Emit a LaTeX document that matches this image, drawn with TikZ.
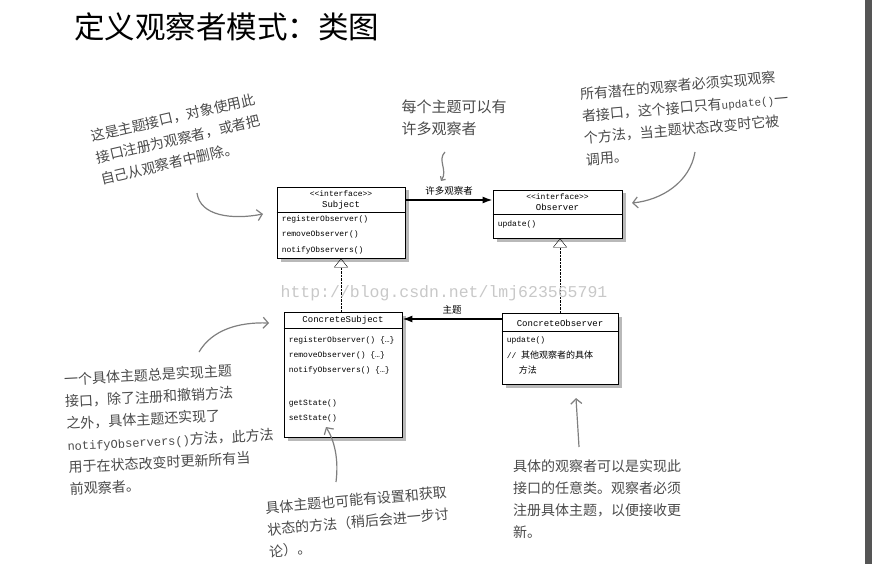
\documentclass[tikz,border=0pt]{standalone}
\usepackage{fontspec}
\setmainfont{Noto Sans CJK SC}
\setmonofont{Liberation Mono}
\newfontfamily\cjk{Noto Sans CJK SC}
\usetikzlibrary{arrows.meta,shadows}
\definecolor{notegray}{HTML}{4A4A4A}
\definecolor{handgray}{HTML}{7F7F7F}
\definecolor{markgray}{HTML}{C8C8C8}
\definecolor{bargray}{HTML}{555555}
\tikzset{
  umlbox/.style={draw,thick,fill=white,inner sep=0pt,
    drop shadow={shadow xshift=3.5pt,shadow yshift=-3.5pt,opacity=.55}},
  umltext/.style={font=\ttfamily\fontsize{8}{8}\selectfont,inner sep=0pt},
  method/.style={umltext,anchor=west,xshift=5pt},
  note/.style={text=notegray,font=\fontsize{14}{22}\selectfont,align=left,inner sep=0pt},
  hand/.style={handgray,line width=1.2pt,-{Straight Barb[length=5pt,width=11pt]}},
  assoc/.style={line width=1.6pt,-{Latex[length=10pt,width=7pt]}},
  realize/.style={densely dotted,-{Triangle[open,length=9pt,width=14pt]}},
}
\begin{document}
\begin{tikzpicture}[x=1pt,y=-1pt]
   \useasboundingbox (0,0) rectangle (872,564);
   \fill[bargray] (865,0) rectangle (872,564);

   \node[font=\fontsize{30.5}{30.5}\selectfont,anchor=west,inner sep=0pt] (title) at (74,27) {定义观察者模式：类图};

   % interface Subject
   \node[umlbox,minimum width=128pt,minimum height=71pt] (subj) at (341,222.5) {};
   \node[umltext] (subjst) at (341,194) {<<interface>>};
   \node[umltext,font=\ttfamily\fontsize{9}{9}\selectfont] (subjname) at (341,205) {Subject};
   \draw[thick] (subj.west |- 0,212) -- (subj.east |- 0,212);
   \node[method] (subjreg) at (subj.west |- 0,219) {registerObserver()};
   \node[method] (subjrem) at (subj.west |- 0,234.5) {removeObserver()};
   \node[method] (subjnot) at (subj.west |- 0,250) {notifyObservers()};

   % interface Observer
   \node[umlbox,minimum width=129pt,minimum height=48pt] (obs) at (557.5,214) {};
   \node[umltext] (obsst) at (557.5,197) {<<interface>>};
   \node[umltext,font=\ttfamily\fontsize{9}{9}\selectfont] (obsname) at (557.5,207) {Observer};
   \draw[thick] (obs.west |- 0,214.5) -- (obs.east |- 0,214.5);
   \node[method] (obsupd) at (obs.west |- 0,224) {update()};

   % ConcreteSubject
   \node[umlbox,minimum width=118pt,minimum height=125pt] (csubj) at (343,374.5) {};
   \node[umltext,font=\ttfamily\fontsize{9}{9}\selectfont] (csubjname) at (343,320) {ConcreteSubject};
   \draw[thick] (csubj.west |- 0,328) -- (csubj.east |- 0,328);
   \node[method] (csubjreg) at (csubj.west |- 0,340) {registerObserver() \{…\}};
   \node[method] (csubjrem) at (csubj.west |- 0,355) {removeObserver() \{…\}};
   \node[method] (csubjnot) at (csubj.west |- 0,370) {notifyObservers() \{…\}};
   \node[method] (csubjget) at (csubj.west |- 0,403) {getState()};
   \node[method] (csubjset) at (csubj.west |- 0,418) {setState()};

   % ConcreteObserver
   \node[umlbox,minimum width=116pt,minimum height=71pt] (cobs) at (560,348.5) {};
   \node[umltext,font=\ttfamily\fontsize{9}{9}\selectfont] (cobsname) at (560,323) {ConcreteObserver};
   \draw[thick] (cobs.west |- 0,331) -- (cobs.east |- 0,331);
   \node[method] (cobsupd) at (cobs.west |- 0,340) {update()};
   \node[method] (cobsrem) at (cobs.west |- 0,355) {// {\cjk\fontsize{9}{9}\selectfont 其他观察者的具体}};
   \node[method,xshift=12pt] (cobsrest) at (cobs.west |- 0,370) {{\cjk\fontsize{9}{9}\selectfont 方法}};

   % connectors
   \draw[assoc] (subj.east |- 0,200) -- node[above=1pt,font=\fontsize{9.5}{9.5}\selectfont] (manylabel) {许多观察者} (obs.west |- 0,200);
   \draw[assoc] (cobs.west |- 0,319) -- node[above=1pt,font=\fontsize{9.5}{9.5}\selectfont] (subjlabel) {主题} (csubj.east |- 0,319);
   \draw[realize] (subj.south |- csubj.north) -- (subj.south);
   \draw[realize] (cobs.north) -- (cobs.north |- obs.south);

   \node[text=markgray,font=\ttfamily\fontsize{16.5}{16.5}\selectfont,inner sep=0pt] (mark) at (444,293) {http://blog.csdn.net/lmj623565791};

   % notes
   \node[note,rotate=13] (subjnote) at (178,139) {这是主题接口，对象使用此\\接口注册为观察者，或者把\\自己从观察者中删除。};
   \node[note,font=\fontsize{15}{22}\selectfont] (manynote) at (454,118) {每个主题可以有\\许多观察者};
   \node[note,rotate=5] (obsnote) at (686,118) {所有潜在的观察者必须实现观察\\者接口，这个接口只有{\ttfamily\fontsize{11}{22}\selectfont update()}一\\个方法，当主题状态改变时它被\\调用。};
   \node[note,rotate=3] (csubjnote) at (170,429) {一个具体主题总是实现主题\\接口，除了注册和撤销方法\\之外，具体主题还实现了\\{\ttfamily\fontsize{12}{22}\selectfont notifyObservers()}方法，此方法\\用于在状态改变时更新所有当\\前观察者。};
   \node[note,rotate=5] (statenote) at (358,522) {具体主题也可能有设置和获取\\状态的方法（稍后会进一步讨\\论）。};
   \node[note] (cobsnote) at (597,499) {具体的观察者可以是实现此\\接口的任意类。观察者必须\\注册具体主题，以便接收更\\新。};

   \coordinate (subjfrom) at (197,193);
   \coordinate (subjto) at (263,214);
   \coordinate (manyfrom) at (445,152);
   \coordinate (manyto) at (441,181);
   \coordinate (obsfrom) at (695,152);
   \coordinate (obsto) at (632,203);
   \coordinate (csubjfrom) at (199,352);
   \coordinate (csubjto) at (269,323);
   \coordinate (statefrom) at (336,482);
   \coordinate (stateto) at (326,427);
   \coordinate (cobsfrom) at (579,447);
   \coordinate (cobsto) at (576,398);

   \draw[hand] (subjfrom) .. controls (200,216) and (232,220) .. (subjto);
   \draw[hand,-{Straight Barb[length=3pt,width=6pt]}] (manyfrom) .. controls (437,160) and (448,170) .. (manyto);
   \draw[hand] (obsfrom) .. controls (690,182) and (662,200) .. (obsto);
   \draw[hand] (csubjfrom) .. controls (212,330) and (238,322) .. (csubjto);
   \draw[hand] (statefrom) .. controls (339,458) and (334,440) .. (stateto);
   \draw[hand] (cobsfrom) .. controls (578,430) and (577,415) .. (cobsto);
  \end{tikzpicture}
\end{document}
